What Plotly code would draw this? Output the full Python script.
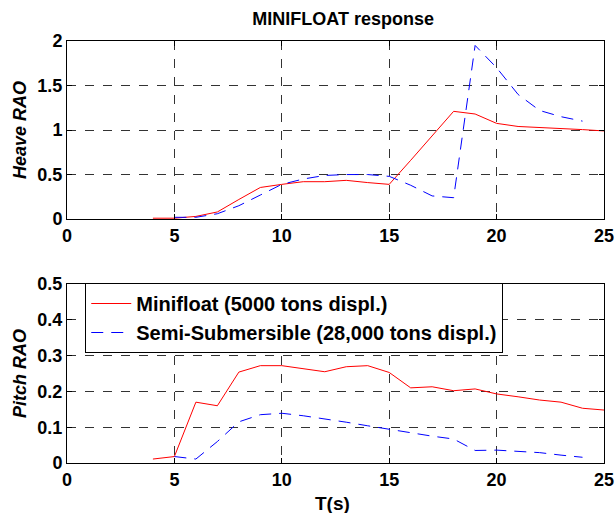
import plotly.graph_objects as go

# ---- data ----
T_mini = [4, 5, 6, 7, 8, 9, 10, 11, 12, 13, 14, 15, 16, 17, 18, 19, 20, 21, 22, 23, 24, 25]
heave_mini = [0.01, 0.01, 0.03, 0.08, 0.22, 0.355, 0.39, 0.42, 0.42, 0.435, 0.41, 0.39,
              0.66, 0.93, 1.21, 1.18, 1.075, 1.04, 1.03, 1.02, 1.005, 0.99]
pitch_mini = [0.011, 0.018, 0.17, 0.16, 0.254, 0.272, 0.272, 0.263, 0.255, 0.269, 0.272, 0.253,
              0.21, 0.213, 0.202, 0.207, 0.193, 0.185, 0.176, 0.17, 0.153, 0.148]

T_semi = [5, 6, 7, 8, 9, 10, 11, 12, 13, 14, 15, 16, 17, 18, 19, 20, 21, 22, 23, 24]
heave_semi = [0.02, 0.02, 0.06, 0.15, 0.27, 0.39, 0.45, 0.49, 0.5, 0.5, 0.48, 0.38, 0.26, 0.24,
              1.95, 1.7, 1.4, 1.22, 1.15, 1.1]
pitch_semi = [0.018, 0.011, 0.06, 0.115, 0.135, 0.139, 0.132, 0.124, 0.114, 0.104, 0.094, 0.083,
              0.075, 0.067, 0.035, 0.036, 0.033, 0.029, 0.022, 0.016]

name_mini = "Minifloat (5000 tons displ.)"
name_semi = "Semi-Submersible (28,000 tons displ.)"

FONT = "Liberation Sans, Arial, sans-serif"
TICKSIZE = 18

fig = go.Figure()
fig.add_trace(go.Scatter(x=T_mini, y=heave_mini, mode="lines", line=dict(color="red", width=1),
                         name=name_mini, showlegend=False, xaxis="x", yaxis="y"))
fig.add_trace(go.Scatter(x=T_semi, y=heave_semi, mode="lines",
                         line=dict(color="blue", width=1, dash="12px,8px"),
                         name=name_semi, showlegend=False, xaxis="x", yaxis="y"))
fig.add_trace(go.Scatter(x=T_mini, y=pitch_mini, mode="lines", line=dict(color="red", width=1),
                         name=name_mini, xaxis="x2", yaxis="y2"))
fig.add_trace(go.Scatter(x=T_semi, y=pitch_semi, mode="lines",
                         line=dict(color="blue", width=1, dash="12px,8px"),
                         name=name_semi, xaxis="x2", yaxis="y2"))

axcommon = dict(showline=True, linecolor="black", linewidth=1, mirror="ticks",
                ticks="inside", ticklen=5, tickcolor="black", automargin=False,
                showgrid=True, gridcolor="#333333", griddash="dash", gridwidth=1,
                zeroline=False, ticklabeloverflow="allow",
                tickfont=dict(family=FONT, size=TICKSIZE, color="black", weight="bold"))

fig.update_layout(
    width=616, height=513,
    margin=dict(l=67, r=12, t=41, b=50),
    paper_bgcolor="white", plot_bgcolor="white",
    font=dict(family=FONT, color="black"),
    showlegend=True,
    title=dict(text="<b>MINIFLOAT response</b>", x=0.557, xanchor="center", y=0.963, yanchor="middle",
               font=dict(family=FONT, size=18, color="black")),
    xaxis=dict(domain=[0, 1], anchor="y", range=[0, 25], tickvals=[0, 5, 10, 15, 20, 25], **axcommon),
    yaxis=dict(domain=[0.578, 1], anchor="x", range=[0, 2], tickvals=[0, 0.5, 1, 1.5, 2],
               title=dict(text="<b><i>Heave RAO</i></b>", font=dict(family=FONT, size=18, color="black"),
                          standoff=6),
               **axcommon),
    xaxis2=dict(domain=[0, 1], anchor="y2", range=[0, 25], tickvals=[0, 5, 10, 15, 20, 25],
                **axcommon),
    yaxis2=dict(domain=[0, 0.424], anchor="x2", range=[0, 0.5], tickvals=[0, 0.1, 0.2, 0.3, 0.4, 0.5],
                title=dict(text="<b><i>Pitch RAO</i></b>", font=dict(family=FONT, size=18, color="black"),
                           standoff=6),
                **axcommon),
    legend=dict(x=0.034, y=0.3436, xanchor="left", yanchor="middle", bgcolor="white",
                bordercolor="black", borderwidth=1,
                font=dict(family=FONT, size=20, color="black", weight="bold"),
                tracegroupgap=0, itemwidth=40),
    annotations=[dict(text="<b>T(s)</b>", xref="paper", yref="paper", x=0.495, y=-0.097,
                      xanchor="center", yanchor="middle", showarrow=False,
                      font=dict(family=FONT, size=19, color="black"))],
)

# remove the page's default body margin so the figure fills the 616x513 window exactly
fig.write_html("out.html", config={"displayModeBar": False},
               post_script="document.body.style.margin='0';document.body.style.overflow='hidden';")
